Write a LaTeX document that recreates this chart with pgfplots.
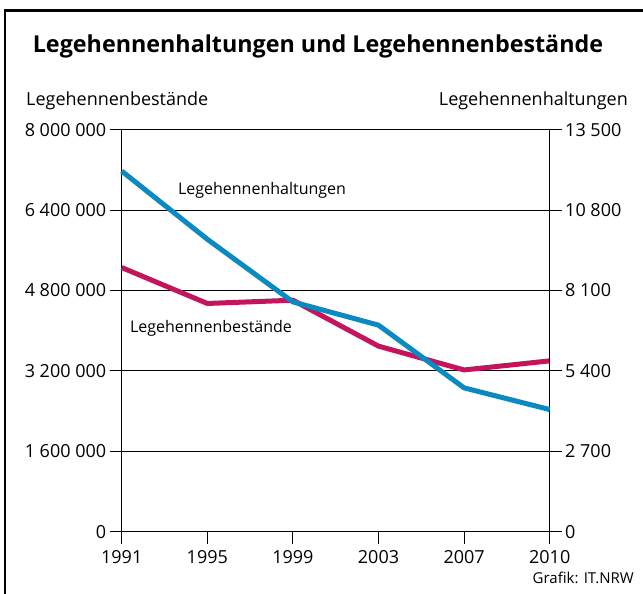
\documentclass[border=0pt]{standalone}
\usepackage{pgfplots}
\pgfplotsset{compat=1.18}
\usepackage{fontspec}
\setmainfont{Open Sans}
\definecolor{hblue}{HTML}{0A8AC0}
\definecolor{hred}{HTML}{C4145C}
\begin{document}
\begin{tikzpicture}[x=1pt,y=1pt]
\useasboundingbox (0,0) rectangle (643,594);
\draw[line width=2.5pt] (5,-20) -- (5,583.5) -- (700,583.5);
\node[font=\fontsize{23.3}{26}\selectfont\bfseries] at (318,548) {Legehennenhaltungen und Legehennenbestände};
\node[font=\fontsize{18}{20}\selectfont, anchor=base west, inner sep=0pt] at (26,488) {Legehennenbestände};
\node[font=\fontsize{18}{20}\selectfont, anchor=base east, inner sep=0pt] at (628,488) {Legehennenhaltungen};
\node[font=\fontsize{15}{17}\selectfont, anchor=base east, inner sep=0pt] at (634,10) {Grafik: IT.NRW};
\begin{axis}[
  at={(121.7pt,62.3pt)}, anchor=south west, scale only axis,
  width=428pt, height=402pt,
  xmin=0, xmax=5, ymin=0, ymax=8000000,
  xtick={0,1,2,3,4,5},
  xticklabels={1991,1995,1999,2003,2007,2010},
  ytick={0,1600000,3200000,4800000,6400000,8000000},
  yticklabels={0,1 600 000,3 200 000,4 800 000,6 400 000,8 000 000},
  scaled y ticks=false,
  xtick pos=bottom, ytick pos=left,
  tick align=outside, major tick length=12pt,
  ymajorgrids, grid style={black, line width=1.1pt},
  axis line style={black, line width=1.1pt},
  tick style={black, line width=1.1pt},
  ticklabel style={font=\fontsize{18}{20}\selectfont},
  xticklabel style={yshift=-3pt},
  clip=false,
]
\addplot[hred, line width=5pt, line join=round] coordinates {
  (0,5257000) (1,4542000) (2,4607000) (3,3693000) (4,3219000) (5,3400000)};
\end{axis}
\begin{axis}[
  at={(121.7pt,62.3pt)}, anchor=south west, scale only axis,
  width=428pt, height=402pt,
  xmin=0, xmax=5, ymin=0, ymax=13500,
  hide x axis,
  axis y line*=right,
  ytick={0,2700,5400,8100,10800,13500},
  yticklabels={0,2 700,5 400,8 100,10 800,13 500},
  scaled y ticks=false,
  tick align=outside, major tick length=12pt,
  axis line style={black, line width=1.1pt},
  tick style={black, line width=1.1pt},
  ticklabel style={font=\fontsize{18}{20}\selectfont},
  clip=false,
]
\addplot[hblue, line width=5pt, line join=round] coordinates {
  (0,12111) (1,9821) (2,7718) (3,6936) (4,4830) (5,4102)};
\end{axis}
\node[font=\fontsize{16}{18}\selectfont] at (262,404) {Legehennenhaltungen};
\node[font=\fontsize{16}{18}\selectfont] at (211,266) {Legehennenbestände};
\end{tikzpicture}
\end{document}
